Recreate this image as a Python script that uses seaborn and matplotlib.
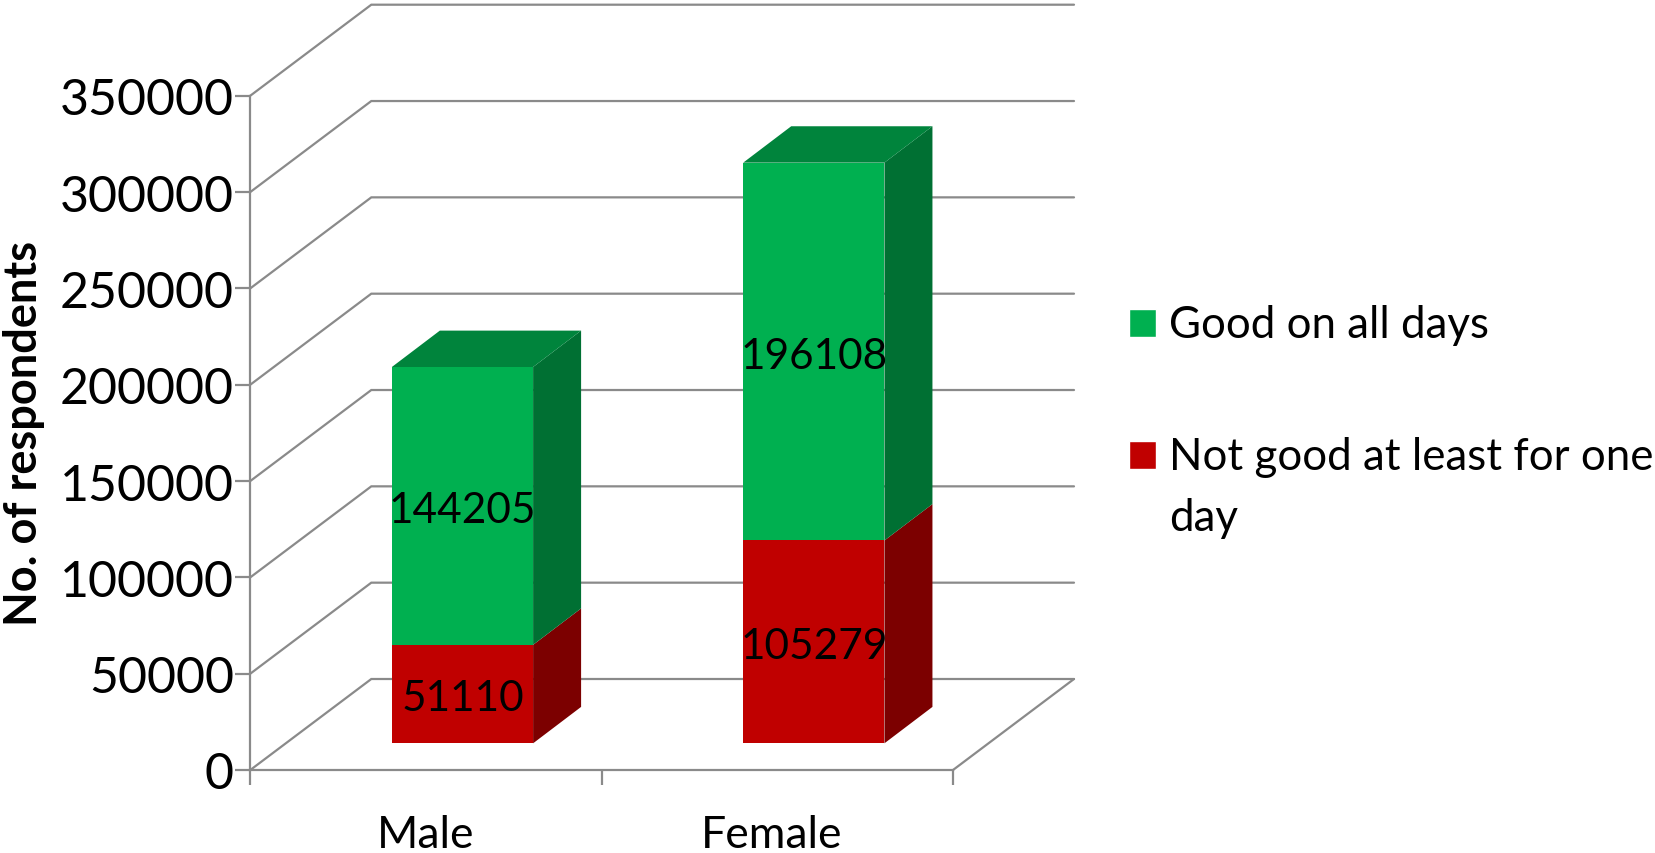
import matplotlib
matplotlib.use("Agg")
import matplotlib.pyplot as plt
import seaborn as sns
import pandas as pd
from matplotlib.patches import Patch, Polygon
from matplotlib.transforms import offset_copy, IdentityTransform, ScaledTranslation
from matplotlib.ticker import FixedLocator

# Survey counts
genders = ["Male", "Female"]
not_good = [51110, 105279]
good = [144205, 196108]
y_ticks = [0, 50000, 100000, 150000, 200000, 250000, 300000, 350000]

GREEN, GREEN_SIDE, GREEN_TOP = "#00B050", "#007033", "#00843C"
RED, RED_SIDE = "#C00000", "#7C0000"
FRAME = "#8A8A8A"
LINE_W = 1.6
W, H = 1656, 854

sns.set_theme(style="white")
plt.rcParams["font.family"] = ["Lato", "DejaVu Sans"]

fig = plt.figure(figsize=(W / 100, H / 100), dpi=100, facecolor="white")
left, right, top, bottom = 250.3, 953.0, 96.7, 771.0
ax = fig.add_axes([left / W, 1 - bottom / H, (right - left) / W, (bottom - top) / H])
ax.patch.set_alpha(0)

# Depth of the box and of the columns, in pixels
BOX_DX, BOX_DY = 121, 91
BAR_DX0, BAR_DY0 = 36.5, 26.7
BAR_DX, BAR_DY = 48, 36.4

df = pd.DataFrame({"gender": genders, "not_good": not_good, "good": good})

bar_shift = offset_copy(ax.transData, fig=fig, x=BAR_DX0, y=BAR_DY0, units="dots")
label_shift = offset_copy(ax.transData, fig=fig, x=BAR_DX0, y=BAR_DY0 - 4, units="dots")
sns.barplot(data=df, x="gender", y="not_good", color=RED, width=0.402, saturation=1,
            ax=ax, zorder=4, linewidth=0)
sns.barplot(data=df, x="gender", y="good", bottom=df["not_good"], color=GREEN, width=0.402,
            saturation=1, ax=ax, zorder=4, linewidth=0)
for patch in ax.patches:
    patch.set_transform(bar_shift)
    patch.set_clip_on(False)

ax.set_xlim(-0.5, 1.5)
ax.set_ylim(0, 350000)


def px(x, y):
    px_x, px_y = ax.transData.transform((x, y))
    return px_x, px_y


# Back wall gridlines and their returns along the side wall
for v in y_ticks:
    x0, y0 = px(-0.5, v)
    x1, _ = px(1.5, v)
    xs = [x0, x0 + BOX_DX, x1 + BOX_DX]
    ys = [y0, y0 + BOX_DY, y0 + BOX_DY]
    ax.plot(xs, ys, color=FRAME, lw=LINE_W, transform=IdentityTransform(), clip_on=False, zorder=1,
            solid_joinstyle="miter")
x1, y0 = px(1.5, 0)
ax.plot([x1, x1 + BOX_DX], [y0, y0 + BOX_DY], color=FRAME, lw=LINE_W,
        transform=IdentityTransform(), clip_on=False, zorder=1)

# Side and top faces of each column, then the value labels
half = 0.402 / 2
for i in range(len(genders)):
    x_r = i + half
    x_l = i - half
    levels = [0, not_good[i], not_good[i] + good[i]]
    for lo, hi, shade in [(levels[0], levels[1], RED_SIDE), (levels[1], levels[2], GREEN_SIDE)]:
        xa, ya = px(x_r, lo)
        _, yb = px(x_r, hi)
        xa += BAR_DX0
        ya += BAR_DY0
        yb += BAR_DY0
        ax.add_patch(Polygon([(xa, ya), (xa, yb), (xa + BAR_DX, yb + BAR_DY), (xa + BAR_DX, ya + BAR_DY)],
                             closed=True, fc=shade, ec="none", transform=IdentityTransform(),
                             clip_on=False, zorder=3))
    xa, yt = px(x_l, levels[2])
    xb, _ = px(x_r, levels[2])
    xa += BAR_DX0
    xb += BAR_DX0
    yt += BAR_DY0
    ax.add_patch(Polygon([(xa, yt), (xb, yt), (xb + BAR_DX, yt + BAR_DY), (xa + BAR_DX, yt + BAR_DY)],
                         closed=True, fc=GREEN_TOP, ec="none", transform=IdentityTransform(),
                         clip_on=False, zorder=3))
    ax.text(i, not_good[i] / 2, str(not_good[i]), transform=label_shift, ha="center",
            va="center", fontsize=30.5, color="black", zorder=5)
    ax.text(i, not_good[i] + good[i] / 2, str(good[i]), transform=label_shift, ha="center",
            va="center", fontsize=30.5, color="black", zorder=5)

# Axes
sns.despine(ax=ax, top=True, right=True)
for side in ("left", "bottom"):
    ax.spines[side].set_color(FRAME)
    ax.spines[side].set_linewidth(LINE_W)
    ax.spines[side].set_zorder(2)
ax.set_yticks(y_ticks)
ax.set_yticklabels([str(v) for v in y_ticks])
ax.set_xticks(range(len(genders)))
ax.set_xticklabels(genders)
ax.xaxis.set_minor_locator(FixedLocator([-0.5, 0.5, 1.5]))
ax.tick_params(axis="y", which="major", left=True, length=10.8, width=LINE_W, color=FRAME,
               labelsize=36, pad=1, labelcolor="black")
ax.tick_params(axis="x", which="major", bottom=False, length=0, labelsize=32, pad=32, labelcolor="black")
ax.tick_params(axis="x", which="minor", bottom=True, length=10.8, width=LINE_W, color=FRAME)
female_label = ax.get_xticklabels()[1]
female_label.set_transform(female_label.get_transform()
                           + ScaledTranslation(-5.5 / 100, 0, fig.dpi_scale_trans))
ax.set_xlabel("")
ax.set_ylabel("No. of respondents", fontsize=32.5, fontweight="bold", color="black")
ax.yaxis.set_label_coords((45 - left) / (right - left), 0.5)

# Legend at the right of the plot
fs = 31.6
fs_px = fs * 100 / 72
leg = fig.legend(handles=[Patch(fc=GREEN, label="Good on all days"),
                          Patch(fc=RED, label="Not good at least for one\nday")],
                 loc="upper left", bbox_to_anchor=(1129 / W, 1 - 310 / H),
                 bbox_transform=fig.transFigure, frameon=False, fontsize=fs,
                 handlelength=27 / fs_px, handleheight=27 / fs_px, handletextpad=13 / fs_px,
                 labelspacing=2.07, borderpad=0, borderaxespad=0, labelcolor="black")
for text in leg.get_texts():
    text.set_linespacing(1.6)
    text.set_y(5)
for row in leg._legend_handle_box.get_children()[0].get_children():
    row.align = "top"

fig.savefig("out.png", dpi=100, facecolor="white")
